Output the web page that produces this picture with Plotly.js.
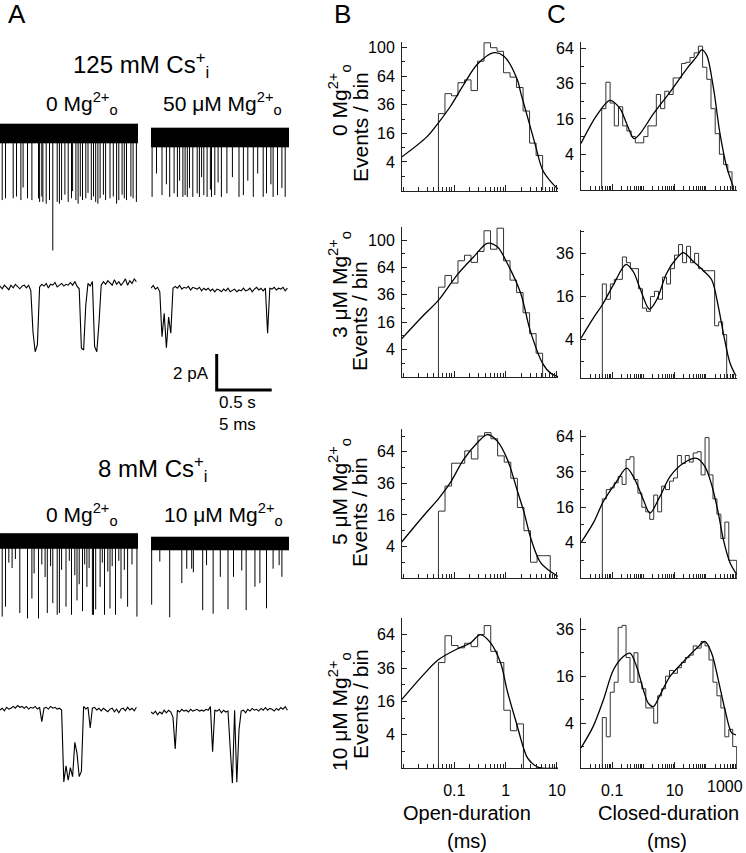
<!DOCTYPE html>
<html>
<head>
<meta charset="utf-8">
<script src="https://cdn.plot.ly/plotly-3.0.1.min.js"></script>
<style>
  html, body { margin: 0; padding: 0; background: #fff; }
  #fig { width: 746px; height: 853px; }
</style>
</head>
<body>
<div id="fig"></div>
<script>
// ---- Panel A: single-channel current traces (pA) ----
// compressed traces: event times (s from trace start) and event amplitudes (pA, downward)
const cs125CtlTimes = [0.02, 0.05, 0.12, 0.15, 0.19, 0.21, 0.25, 0.29, 0.35, 0.36, 0.38, 0.39, 0.42, 0.45, 0.48, 0.52, 0.54, 0.56, 0.59, 0.62, 0.65, 0.66, 0.69, 0.71, 0.73, 0.75, 0.78, 0.80, 0.83, 0.85, 0.87, 0.89, 0.91, 0.94, 0.96, 1.00, 1.03, 1.06, 1.08, 1.11, 1.13, 1.15, 1.19, 1.21, 1.24];
const cs125CtlAmps = [3.7, 3.6, 3.6, 3.5, 3.7, 3.0, 3.6, 3.7, 3.6, 3.8, 3.5, 3.8, 3.9, 3.7, 6.5, 3.8, 3.9, 3.7, 3.4, 3.8, 3.6, 3.2, 3.7, 3.9, 3.5, 3.7, 3.6, 3.3, 3.7, 3.5, 3.8, 3.9, 3.6, 3.4, 3.7, 3.6, 3.5, 3.9, 3.7, 3.4, 3.6, 3.7, 3.5, 3.6, 3.8];
const cs125MgTimes = [0.01, 0.05, 0.10, 0.14, 0.17, 0.21, 0.24, 0.26, 0.29, 0.31, 0.33, 0.35, 0.38, 0.42, 0.44, 0.46, 0.48, 0.51, 0.54, 0.55, 0.58, 0.61, 0.64, 0.69, 0.74, 0.80, 0.84, 0.88, 0.93, 0.97, 1.02, 1.05, 1.09, 1.11, 1.15, 1.19, 1.22];
const cs125MgAmps = [3.3, 2.0, 3.2, 2.6, 3.3, 3.1, 3.3, 2.4, 3.3, 3.2, 3.3, 2.8, 3.3, 3.1, 3.3, 2.2, 3.2, 3.3, 2.9, 3.3, 3.2, 2.5, 3.3, 3.1, 2.2, 3.3, 3.2, 2.4, 3.3, 2.0, 3.3, 3.1, 2.6, 3.3, 3.2, 2.8, 3.3];
const cs8CtlTimes = [0.02, 0.05, 0.18, 0.25, 0.29, 0.35, 0.43, 0.48, 0.52, 0.54, 0.60, 0.65, 0.70, 0.75, 0.79, 0.84, 0.85, 0.87, 0.91, 0.95, 1.00, 1.05, 1.10, 1.16, 1.245, 0.08, 0.11, 0.14, 0.31, 0.38, 0.41, 0.46, 0.56, 0.63, 0.68, 0.72, 0.77, 0.81, 0.93, 0.98, 1.02, 1.08, 1.13, 1.20];
const cs8CtlAmps = [4.2, 3.65, 4.0, 4.3, 3.2, 4.3, 4.0, 3.45, 4.1, 4.0, 3.65, 4.1, 3.3, 3.9, 2.55, 4.1, 4.1, 3.8, 2.55, 4.1, 3.75, 4.1, 3.2, 3.65, 4.2, 1.2, 1.5, 1.0, 1.8, 1.3, 2.0, 1.4, 1.6, 1.1, 1.9, 2.4, 1.3, 1.5, 1.2, 1.7, 1.4, 1.1, 1.6, 1.3];
const cs8MgTimes = [0.006, 0.08, 0.17, 0.28, 0.325, 0.37, 0.385, 0.47, 0.505, 0.565, 0.63, 0.70, 0.75, 0.825, 0.865, 0.945, 0.99, 1.05, 1.11, 1.165, 1.19];
const cs8MgAmps = [3.4, 1.0, 4.1, 2.2, 1.4, 1.4, 1.6, 3.7, 1.2, 3.9, 1.85, 3.65, 1.85, 1.5, 3.7, 2.4, 2.2, 3.6, 1.4, 1.2, 1.85];
const noiseHalfWidth = [0.53, 0.53, 0.42, 0.36];   // pA, baseline noise band of compressed traces

// expanded traces, current (pA) sampled every 0.2 ms
const sampleMs = 0.2;
const exp125Ctl = [0.05, -0.1, 0.1, 0, -0.15, 0.1, -0.05, 0.15, 0, -0.1, 0.05, 0.1, -0.05, 0.1, -0.2, -2.5, -3.6, -3.2, 0.0, 0.15, 0.05, 0.2, -0.05, 0.15, 0.1, 0.25, 0, 0.1, 0.2, 0.05, 0.15, 0.1, 0.25, 0.1, 0.3, 0.05, -0.1, -3.4, -3.5, -1.0, 0.2, 0.05, 0.3, -3.3, -3.6, -2.0, 0.1, 0.3, 0.15, 0.35, 0.2, 0.1, 0.4, 0.15, 0.3, 0.1, 0.25, 0.45, 0.1, 0.35, 0.2, 0.45, 0.3];
const exp125Mg = [0.1, 0.25, 0.05, 0.15, -0.1, -2.6, -1.3, -3.2, -1.5, -2.4, 0.1, 0.2, 0.1, 0.25, 0.05, 0.15, 0.1, 0.2, 0, 0.15, 0.1, 0.05, 0.15, -0.05, 0.1, 0, 0.1, -0.05, 0.05, -0.1, 0.05, 0, -0.1, 0.05, -0.05, 0.1, -0.1, 0, 0.05, -0.1, 0, -0.05, 0.1, -0.05, 0, 0.1, -0.1, 0.05, 0.15, 0, 0.1, -0.05, 0.1, -2.4, 0.1, 0.05, 0.15, 0, 0.1, 0.05, 0.15, -0.05, 0.1];
const exp8Ctl = [0, 0.1, -0.05, 0.15, 0.05, 0.1, 0.2, 0.1, 0.25, 0.15, 0.2, 0.1, 0.2, 0.05, 0.15, 0.1, 0.2, 0.05, 0.15, -0.65, 0.1, 0.15, 0.05, 0.2, 0.1, 0.15, 0.05, 0.1, 0, -4.0, -3.1, -3.9, -3.2, -3.7, -1.8, -2.4, -3.7, -3.4, 0.2, 0.05, 0.15, -1.0, 0.1, 0.15, 0, 0.1, -0.05, 0.1, 0, -0.1, 0.05, 0.1, -0.1, 0.05, -0.15, 0.05, 0.1, -0.05, 0.15, 0, 0.1, -0.05, 0.15];
const exp8Mg = [0, -0.1, 0.05, -0.15, 0, -0.1, 0.1, -0.05, 0.1, 0, -0.3, -2.05, 0.1, 0, 0.15, 0.05, 0.1, 0, 0.15, 0.05, 0.1, 0.15, 0.05, 0.1, 0.05, 0.15, 0.1, 0.3, -2.2, 0.1, 0.05, 0.15, -0.05, 0.1, 0, 0.05, -2.0, -3.95, 0.1, -3.9, -1.0, 0.05, 0.1, -0.05, 0.15, 0.05, 0.2, 0.1, 0.15, 0.05, 0.2, 0.1, 0.25, 0.1, 0.2, 0.15, 0.05, 0.2, 0.1, 0.25, 0.15, 0.3, 0.1];
const scaleBarPA = 2;
const scaleBarSec = 0.5;

// ---- Panel B: open-duration histograms (events / bin) ----
const openConditions = ['0 Mg<sup>2+</sup><sub>o</sub>', '3 μM Mg<sup>2+</sup><sub>o</sub>', '5 μM Mg<sup>2+</sup><sub>o</sub>', '10 μM Mg<sup>2+</sup><sub>o</sub>'];
const openFirstEdge = 0.049;                 // ms
const openLastEdge = [5.25, 5.25, 7.4, 2.22]; // ms
const openCounts0 = [29, 46, 44, 57, 60, 49, 82, 107, 100, 95, 68, 63, 52, 31, 11, 6];
const openCounts3 = [43, 55, 47, 72, 79, 70, 84, 114, 87, 118, 72, 50, 38, 22, 10, 3];
const openCounts5 = [18, 34, 53, 53, 65, 57, 81, 85, 78, 60, 54, 40, 20, 9, 1, 2, 2];
const openCounts10 = [40, 63, 54, 52, 56, 53, 64, 73, 49, 40, 12, 5, 7];
const openFit0X = [0.0094, 0.0291, 0.0493, 0.0836, 0.152, 0.278, 0.59, 0.927, 1.69, 1.97, 2.47, 3.71, 5.25, 7.87, 10.5];
const openFit0Y = [5.5, 14.1, 22.6, 34.6, 54.9, 77.8, 93.1, 88.5, 60.2, 46.8, 31.1, 10.9, 2.07, 0.3, 0.01];
const openFit3X = [0.0094, 0.0251, 0.0493, 0.1127, 0.239, 0.438, 0.687, 1.079, 1.97, 3.0, 5.25, 7.62, 11.1];
const openFit3Y = [7.8, 20.3, 31.5, 55.4, 77.1, 95.3, 90.4, 68.7, 37.2, 11.6, 1.0, 0.07, 0];
const openFit5X = [0.0094, 0.0251, 0.0493, 0.0836, 0.152, 0.278, 0.438, 0.687, 1.079, 1.70, 2.31, 3.10, 4.88, 10.4];
const openFit5Y = [5.2, 15.6, 25.4, 36.6, 56.6, 73.4, 82.8, 75.3, 56.6, 30.3, 16.8, 6.25, 0.88, 0.01];
const openFit10X = [0.0094, 0.0251, 0.0493, 0.1127, 0.206, 0.324, 0.508, 0.798, 1.079, 1.69, 1.99, 2.29, 2.67, 4.21, 11.5];
const openFit10Y = [16.8, 31.4, 42.3, 51, 56.3, 64, 56.3, 39.7, 21.2, 6.25, 2.9, 1.2, 0.36, 0.003, 0];

// ---- Panel C: closed-duration histograms (events / bin) ----
const closedFirstEdge = [0.046, 0.0483, 0.0483, 0.0483]; // ms
const closedLastEdge = [692, 467, 977, 977];               // ms
const closedCounts0 = [21, 37, 24, 13, 22, 13, 11, 9, 7, 7, 9, 13, 13, 29, 21, 31, 29, 40, 40, 51, 52, 56, 60, 66, 48, 39, 21, 10, 4, 2, 1];
const closedCounts3 = [21, 15, 21, 23, 23, 34, 31, 28, 28, 19, 12, 11, 16, 18, 15, 24, 21, 28, 35, 41, 31, 40, 31, 36, 28, 27, 27, 27, 7, 8, 5];
const closedCounts5 = [20, 25, 26, 29, 33, 28, 45, 47, 31, 23, 16, 14, 11, 22, 14, 27, 25, 30, 32, 48, 42, 48, 43, 50, 51, 34, 63, 34, 20, 13, 5, 10, 1, 1];
const closedCounts10 = [5, 2, 11, 14, 37, 38, 23, 14, 25, 14, 12, 7, 7, 4, 10, 12, 16, 18, 17, 19, 21, 23, 24, 28, 27, 30, 28, 22, 14, 10, 7, 2, 3, 1];
const closedFit0X = [0.01, 0.0318, 0.0849, 0.178, 0.291, 0.5, 0.778, 2.08, 7.13, 24.4, 50.9, 73.8, 107, 174, 285, 467, 764];
const closedFit0Y = [6.8, 17.6, 25.5, 21, 13.9, 8.3, 10, 18.4, 30.5, 46.8, 56.7, 62.6, 57.8, 33.6, 10, 1.64, 0.02];
const closedFit3X = [0.01, 0.0248, 0.0483, 0.109, 0.277, 0.475, 0.778, 1.55, 2.66, 5.57, 11.6, 19.1, 39.8, 83.4, 154, 252, 365, 597, 929];
const closedFit3Y = [4.3, 9, 13.1, 20.6, 30.1, 26.5, 19.2, 11.7, 14.8, 25.8, 33.3, 36.4, 31.6, 27, 22.8, 12.5, 5.3, 0.85, 0.1];
const closedFit5X = [0.01, 0.0248, 0.052, 0.139, 0.291, 0.538, 0.995, 1.63, 3.4, 7.13, 19.1, 50.9, 94.2, 154, 252, 365, 597, 977];
const closedFit5Y = [4, 9.7, 18.7, 29.8, 38.6, 30.8, 19.6, 13.5, 21.3, 32.9, 42.1, 45.8, 39.7, 27.8, 13.5, 4.75, 0.74, 0.04];
const closedFit10X = [0.01, 0.0248, 0.052, 0.109, 0.228, 0.372, 0.608, 0.995, 1.44, 2.08, 3.4, 7.13, 19.1, 50.9, 94.2, 154, 252, 412, 675, 929];
const closedFit10Y = [0.88, 3.5, 8.9, 18.2, 23.4, 24.8, 19.4, 11.7, 8.1, 7.3, 10.2, 15.9, 21.3, 26.9, 30, 24.8, 14.7, 6.6, 2.5, 2.25];

const countTicks = [4, 16, 36, 64, 100];
const openTickLabels = [0.1, 1, 10];
const closedTickLabels = [0.1, 10];

// ---------------------------------------------------------------
const W = 746, H = 853;
const FONT = 'Liberation Sans, Arial, Helvetica, sans-serif';
const PX_PER_PA = 18, PX_PER_S = 110, PX_PER_MS = 11;
const fx = px => px / W;
const fy = py => 1 - py / H;
const sid = n => (n === 1 ? '' : String(n));

const data = [];
const layout = {
  width: W, height: H,
  margin: { l: 0, r: 0, t: 0, b: 0 },
  paper_bgcolor: '#fff', plot_bgcolor: 'rgba(0,0,0,0)',
  showlegend: false,
  font: { family: FONT, color: '#000' },
  annotations: []
};

function setAxes(n, xPx, yPx, xa, ya) {
  const s = sid(n);
  layout['xaxis' + s] = Object.assign({ domain: [fx(xPx[0]), fx(xPx[1])], anchor: 'y' + s, fixedrange: true }, xa);
  layout['yaxis' + s] = Object.assign({ domain: [fy(yPx[1]), fy(yPx[0])], anchor: 'x' + s, fixedrange: true }, ya);
}

function note(text, px, py, size, opts) {
  layout.annotations.push(Object.assign({
    text, x: fx(px), y: fy(py), xref: 'paper', yref: 'paper',
    showarrow: false, xanchor: 'left', yanchor: 'middle',
    font: { family: FONT, size, color: '#000' }
  }, opts || {}));
}

// ---- histogram panels ----
// minor ticks: 2..9 in each decade, plus the unlabelled decades
function logMinor(lo, hi, labelled) {
  const v = [];
  for (let d = lo; d <= hi; d++) {
    const dec = Math.pow(10, d);
    if (!labelled.some(l => Math.abs(l - dec) < dec * 1e-6)) v.push(dec);
    if (d < hi) for (let k = 2; k <= 9; k++) v.push(k * dec);
  }
  return v;
}

function histTrace(first, last, counts, n) {
  const w = Math.log10(last / first) / counts.length;
  const x = [first], y = [0];
  counts.forEach((c, i) => { x.push(first * Math.pow(10, i * w)); y.push(Math.sqrt(c)); });
  x.push(last, last);
  y.push(Math.sqrt(counts[counts.length - 1]), 0);
  return { type: 'scatter', mode: 'lines', x, y, xaxis: 'x' + sid(n), yaxis: 'y' + sid(n),
    line: { shape: 'hv', color: '#333', width: 1 }, hoverinfo: 'skip' };
}

function fitTrace(xs, ys, n) {
  return { type: 'scatter', mode: 'lines', x: xs, y: ys.map(Math.sqrt), xaxis: 'x' + sid(n), yaxis: 'y' + sid(n),
    line: { shape: 'spline', smoothing: 0.9, color: '#000', width: 1.3 }, hoverinfo: 'skip' };
}

const axisLine = { showline: true, linecolor: '#222', linewidth: 1, showgrid: false, zeroline: false,
  ticks: 'inside', tickcolor: '#222', tickfont: { family: FONT, size: 16, color: '#000' } };

function yCountAxis(lo, hi) {
  const shown = countTicks.filter(c => Math.sqrt(c) >= lo && Math.sqrt(c) <= hi);
  return Object.assign({}, axisLine, {
    range: [lo, hi], ticklen: 5, tickmode: 'array',
    tickvals: shown.map(Math.sqrt), ticktext: shown.map(String), ticklabelstandoff: 3,
    minor: { tickmode: 'array', tickvals: [1, 3, 5, 7, 9].filter(v => v <= hi), ticks: 'inside', ticklen: 3, tickcolor: '#222', showgrid: false }
  });
}

function xLogAxis(range, labelled, showLabels) {
  return Object.assign({}, axisLine, {
    type: 'log', range, ticklen: 6, tickmode: 'array',
    tickvals: labelled, ticktext: labelled.map(String), showticklabels: showLabels, ticklabelstandoff: 8,
    minor: { tickmode: 'array', tickvals: logMinor(Math.round(range[0]), Math.round(range[1]), labelled),
      ticks: 'inside', ticklen: 4, tickcolor: '#222', showgrid: false }
  });
}

const rowsB = [[42, 190.5], [227, 377], [429, 578], [618, 768]];
const rowsC = [[42, 189.5], [230, 378], [430, 578], [618, 768]];
const yTopB = [10.4, 10.95, 9.45, 9.0];
const yRangeC = [[0, 8.36], [0.23, 7.08], [0, 8.37], [0.085, 6.48]];

const openCounts = [openCounts0, openCounts3, openCounts5, openCounts10];
const openFitX = [openFit0X, openFit3X, openFit5X, openFit10X];
const openFitY = [openFit0Y, openFit3Y, openFit5Y, openFit10Y];
const closedCounts = [closedCounts0, closedCounts3, closedCounts5, closedCounts10];
const closedFitX = [closedFit0X, closedFit3X, closedFit5X, closedFit10X];
const closedFitY = [closedFit0Y, closedFit3Y, closedFit5Y, closedFit10Y];

for (let r = 0; r < 4; r++) {
  const nb = r + 1, nc = r + 5;
  const last = r === 3;
  setAxes(nb, [402, 558], rowsB[r], xLogAxis([-2.02, 1.02], openTickLabels, last), yCountAxis(0, yTopB[r]));
  // "1000" is placed as a note so it stays inside the figure
  setAxes(nc, [581, 737], rowsC[r], xLogAxis([-2, 3], closedTickLabels, last), yCountAxis(yRangeC[r][0], yRangeC[r][1]));
  data.push(histTrace(openFirstEdge, openLastEdge[r], openCounts[r], nb));
  data.push(fitTrace(openFitX[r], openFitY[r], nb));
  data.push(histTrace(closedFirstEdge[r], closedLastEdge[r], closedCounts[r], nc));
  data.push(fitTrace(closedFitX[r], closedFitY[r], nc));
}

// rotated y titles for panel B rows
const condCenters = [100, 285, 492, 712];
const eventsCenters = [127, 316, 512, 704];
for (let r = 0; r < 4; r++) {
  note(openConditions[r], 339, condCenters[r], 21, { textangle: -90, xanchor: 'center' });
  note('Events / bin', 360, eventsCenters[r], 21, { textangle: -90, xanchor: 'center' });
}
note('1000', 745, 786, 16, { xanchor: 'right' });
note('Open-duration', 467, 813, 20, { xanchor: 'center' });
note('(ms)', 467, 841, 20, { xanchor: 'center' });
note('Closed-duration', 668, 813, 20, { xanchor: 'center' });
note('(ms)', 667, 841, 20, { xanchor: 'center' });

// ---- Panel A traces ----
function traceAxes(n, pxL, pxR, pxPerUnit, basePy, topPy, botPy) {
  setAxes(n, [pxL, pxR], [topPy, botPy],
    { visible: false, range: [0, (pxR - pxL) / pxPerUnit] },
    { visible: false, range: [-(botPy - basePy) / PX_PER_PA, (basePy - topPy) / PX_PER_PA] });
}

function compressed(n, half, times, amps) {
  const s = sid(n);
  const tEnd = layout['xaxis' + s].range[1];
  data.push({ type: 'scatter', mode: 'lines', x: [0, tEnd, tEnd, 0, 0], y: [half, half, -half, -half, half],
    fill: 'toself', fillcolor: '#000', line: { color: '#000', width: 0.6 }, xaxis: 'x' + s, yaxis: 'y' + s, hoverinfo: 'skip' });
  const x = [], y = [];
  times.forEach((t, i) => { x.push(t, t, null); y.push(0, -amps[i], null); });
  data.push({ type: 'scatter', mode: 'lines', x, y, line: { color: '#000', width: 1 },
    xaxis: 'x' + s, yaxis: 'y' + s, hoverinfo: 'skip' });
}

function expanded(n, values) {
  const s = sid(n);
  data.push({ type: 'scatter', mode: 'lines', x: values.map((_, i) => i * sampleMs), y: values,
    line: { color: '#000', width: 1.1 }, xaxis: 'x' + s, yaxis: 'y' + s, hoverinfo: 'skip' });
}

traceAxes(9, 0, 138, PX_PER_S, 133.5, 110, 262);
traceAxes(10, 151, 289, PX_PER_S, 137.5, 110, 262);
traceAxes(11, 0, 138, PX_PER_MS, 287, 266, 362);
traceAxes(12, 151, 289, PX_PER_MS, 290, 266, 362);
traceAxes(13, 0, 138, PX_PER_S, 541, 522, 630);
traceAxes(14, 151, 289, PX_PER_S, 543.5, 522, 630);
traceAxes(15, 0, 138, PX_PER_MS, 710, 690, 800);
traceAxes(16, 151, 289, PX_PER_MS, 712, 690, 800);

compressed(9, noiseHalfWidth[0], cs125CtlTimes, cs125CtlAmps);
compressed(10, noiseHalfWidth[1], cs125MgTimes, cs125MgAmps);
compressed(13, noiseHalfWidth[2], cs8CtlTimes, cs8CtlAmps);
compressed(14, noiseHalfWidth[3], cs8MgTimes, cs8MgAmps);
expanded(11, exp125Ctl);
expanded(12, exp125Mg);
expanded(15, exp8Ctl);
expanded(16, exp8Mg);

// scale bar axes (s, pA) with a little padding
setAxes(17, [216.7 - 5, 216.7 + 55 + 5], [354 - 5, 390 + 5],
  { visible: false, range: [-5 / PX_PER_S, scaleBarSec + 5 / PX_PER_S] },
  { visible: false, range: [-5 / PX_PER_PA, scaleBarPA + 5 / PX_PER_PA] });
data.push({ type: 'scatter', mode: 'lines', x: [0, 0, scaleBarSec], y: [scaleBarPA, 0, 0],
  line: { color: '#000', width: 3 }, xaxis: 'x17', yaxis: 'y17', hoverinfo: 'skip' });

// panel letters and panel A text
note('A', 6, 14, 26);
note('B', 332, 14, 26);
note('C', 545, 14, 26);
note('125 mM Cs<sup>+</sup><sub>i</sub>', 71, 65, 24);
note('0 Mg<sup>2+</sup><sub>o</sub>', 44, 104, 21);
note('50 μM Mg<sup>2+</sup><sub>o</sub>', 161, 104, 21);
note('2 pA', 211, 373, 17, { xanchor: 'right' });
note('0.5 s', 217, 403, 17);
note('5 ms', 217, 424, 17);
note('8 mM Cs<sup>+</sup><sub>i</sub>', 96, 469, 24);
note('0 Mg<sup>2+</sup><sub>o</sub>', 44, 514, 21);
note('10 μM Mg<sup>2+</sup><sub>o</sub>', 162, 514, 21);

Plotly.newPlot('fig', data, layout, { staticPlot: true, displayModeBar: false });
</script>
</body>
</html>
